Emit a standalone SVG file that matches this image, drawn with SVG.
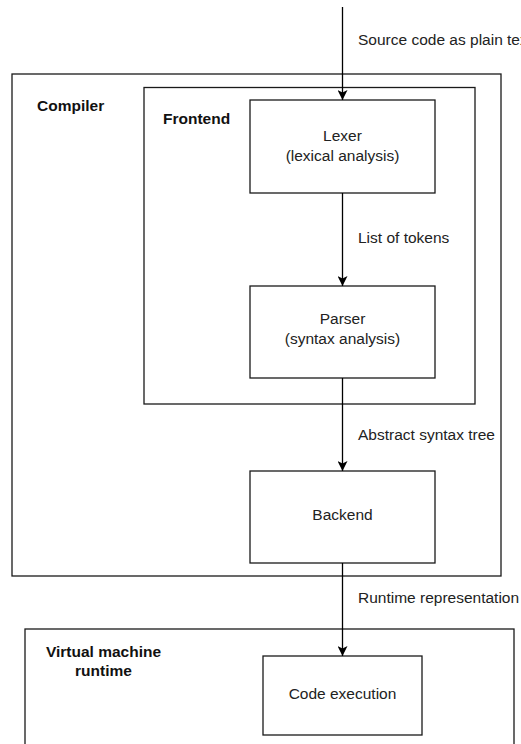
<svg xmlns="http://www.w3.org/2000/svg" width="521" height="744" viewBox="0 0 521 744">
  <style>
    .box { fill: #ffffff; stroke: #1a1a1a; stroke-width: 1.3; }
    .frame { fill: none; stroke: #1a1a1a; stroke-width: 1.3; }
    .edge { fill: none; stroke: #000000; stroke-width: 1.3; }
    text { font-family: "Liberation Sans", Arial, Helvetica, sans-serif; font-size: 15.5px; fill: #222222; }
    .title { font-weight: bold; fill: #111111; }
    .mid { text-anchor: middle; }
  </style>
  <defs>
    <marker id="arrow" viewBox="0 0 10 10" refX="10" refY="5" markerWidth="10" markerHeight="10" markerUnits="userSpaceOnUse" orient="auto">
      <path d="M0,0 L10,5 L0,10 L2.5,5 Z" fill="#000000"/>
    </marker>
  </defs>

  <rect width="521" height="744" fill="#ffffff"/>

  <!-- Compiler container -->
  <g id="compiler">
    <rect class="frame" x="12" y="74" width="489" height="502"/>
    <text class="title" x="37" y="111">Compiler</text>
  </g>

  <!-- Frontend container -->
  <g id="frontend">
    <rect class="frame" x="144" y="87.5" width="331" height="316.5"/>
    <text class="title" x="163" y="123.5">Frontend</text>
  </g>

  <g id="lexer">
    <rect class="box" x="250" y="100" width="185" height="93"/>
    <text class="mid" x="342.5" y="141">Lexer</text>
    <text class="mid" x="342.5" y="160.5">(lexical analysis)</text>
  </g>

  <g id="parser">
    <rect class="box" x="250" y="286" width="185" height="92"/>
    <text class="mid" x="342.5" y="324">Parser</text>
    <text class="mid" x="342.5" y="344">(syntax analysis)</text>
  </g>

  <g id="backend">
    <rect class="box" x="250" y="471" width="185" height="92"/>
    <text class="mid" x="342.5" y="520">Backend</text>
  </g>

  <!-- Runtime container -->
  <g id="vm-runtime">
    <rect class="frame" x="25" y="629" width="489" height="130"/>
    <text class="title mid" x="103.5" y="656.5">Virtual machine</text>
    <text class="title mid" x="103.5" y="676">runtime</text>
  </g>

  <g id="code-execution">
    <rect class="box" x="263" y="656" width="159" height="79"/>
    <text class="mid" x="342.5" y="699">Code execution</text>
  </g>

  <!-- Data flow between stages -->
  <g id="connectors">
    <path class="edge" d="M342.5,7 V100" marker-end="url(#arrow)"/>
    <path class="edge" d="M342.5,193 V286" marker-end="url(#arrow)"/>
    <path class="edge" d="M342.5,378 V471" marker-end="url(#arrow)"/>
    <path class="edge" d="M342.5,563 V656" marker-end="url(#arrow)"/>
    <text x="358" y="45">Source code as plain text</text>
    <text x="358" y="243">List of tokens</text>
    <text x="358" y="439.5">Abstract syntax tree</text>
    <text x="358" y="603">Runtime representation</text>
  </g>
</svg>
